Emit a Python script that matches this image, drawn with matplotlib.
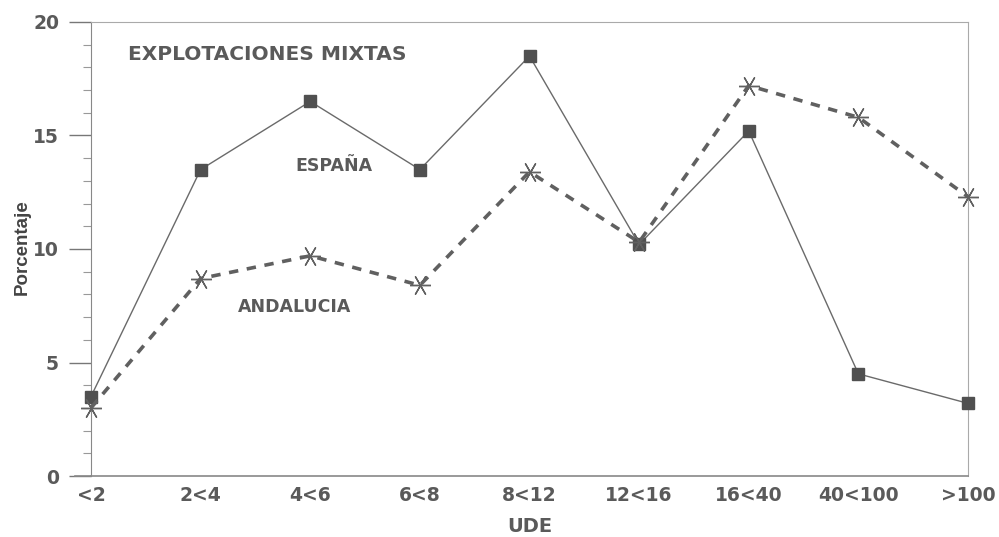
import numpy as np
import matplotlib.pyplot as plt
from matplotlib.ticker import MultipleLocator

# categories (UDE) and series values
categorias = ['<2', '2<4', '4<6', '6<8', '8<12', '12<16', '16<40', '40<100', '>100']
espana = [3.5, 13.5, 16.5, 13.5, 18.5, 10.2, 15.2, 4.5, 3.2]
andalucia = [3.0, 8.7, 9.7, 8.4, 13.4, 10.3, 17.2, 15.8, 12.3]

gris = '#5a5a5a'
plt.rcParams['font.family'] = ['DejaVu Sans']

fig = plt.figure(figsize=(9.99, 5.37), dpi=100)
ax = fig.add_axes([91/999, 1 - 476/537, (968 - 91)/999, (476 - 22)/537])

x = np.arange(len(categorias))
ax.plot(x, espana, color='#6a6a6a', lw=1.0, marker='s', ms=8,
        mfc='#505050', mec='#505050', zorder=3, clip_on=False)
ax.plot(x, andalucia, color='#606060', lw=2.6, ls=(0, (2.6, 2.4)),
        marker=(6, 2, 90), ms=15, mec='#606060', mew=1.0, zorder=3,
        clip_on=False)

ax.set_xlim(0, len(categorias) - 1)
ax.set_ylim(0, 20)
ax.set_xticks(x)
ax.set_xticklabels(categorias)
ax.yaxis.set_major_locator(MultipleLocator(5))
ax.yaxis.set_minor_locator(MultipleLocator(1))

ax.tick_params(axis='x', length=0, pad=7, labelsize=13.5, labelcolor=gris)
ax.tick_params(axis='y', which='major', length=16, width=1.0, color='#777777',
               pad=7, labelsize=13.5, labelcolor=gris)
ax.tick_params(axis='y', which='minor', length=6, width=0.8, color='#999999')
for lab in ax.get_xticklabels() + ax.get_yticklabels():
    lab.set_fontweight('bold')

ax.spines['left'].set_color('#888888')
ax.spines['bottom'].set_color('#888888')
ax.spines['bottom'].set_linewidth(1.2)
ax.spines['top'].set_color('#aaaaaa')
ax.spines['right'].set_color('#aaaaaa')
ax.spines['top'].set_linewidth(0.8)
ax.spines['right'].set_linewidth(0.8)

# bottom line runs a bit past the y axis, as in the scan
ax.plot([-0.15, 0], [0, 0], color='#888888', lw=1.2, clip_on=False)

ax.set_xlabel('UDE', fontsize=14, color=gris, labelpad=9, fontweight='bold')
ax.set_ylabel('Porcentaje', fontsize=13.5, color='#444444',
              family='Liberation Sans', fontweight='bold')
ax.yaxis.set_label_coords((31 - 91) / 877, (476 - 247) / 454)

ax.text(0.34, 18.59, 'EXPLOTACIONES MIXTAS', fontsize=14.5, fontweight='bold',
        color=gris, va='center')
ax.text(1.86, 13.66, 'ESPAÑA', fontsize=12.5, fontweight='bold',
        color=gris, va='center')
ax.text(1.34, 7.44, 'ANDALUCIA', fontsize=12.5, fontweight='bold',
        color=gris, va='center')

fig.savefig('out.png', dpi=100)
